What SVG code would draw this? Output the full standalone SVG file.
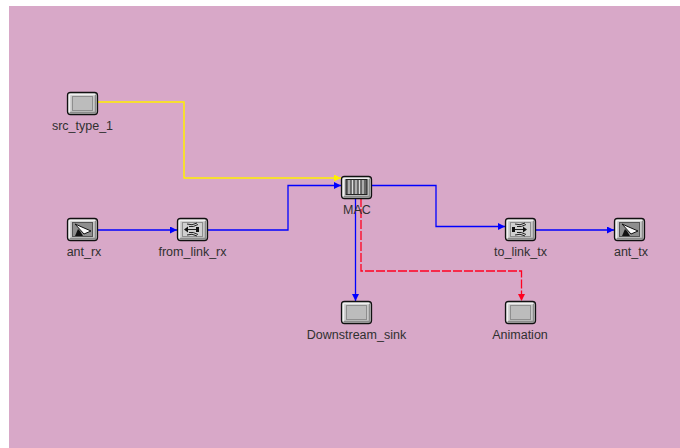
<svg xmlns="http://www.w3.org/2000/svg" width="680" height="448" viewBox="0 0 680 448">
<style>
text{font-family:"Liberation Sans",Arial,sans-serif;font-size:12.5px;fill:#303030;text-anchor:middle}
.c{fill:none;stroke-width:1.3}
.blue{stroke:#0000ff}.yellow{stroke:#fff000;stroke-width:1.5}.red{stroke:#ff0020;stroke-dasharray:9 2}
.body{fill:#c8c8c8;stroke:#111;stroke-width:1.3}
.lit{fill:none;stroke:#f0f0f0;stroke-width:1.5}
.shade{fill:none;stroke:#8c8c8c;stroke-width:1.5}
.inner{fill:#bcbcbc;stroke:#8e8e8e;stroke-width:1}
.screen{fill:#bdbdbd;stroke:#555;stroke-width:1}
.g{stroke:#222;stroke-width:1;fill:none}
</style>
<defs>
<g id="box"><rect class="body" x="0.500" y="0.500" width="30" height="22" rx="3"/><path class="shade" d="M3 20.500H28.500V3"/><path class="lit" d="M2.500 20V2.500H28"/></g>
<g id="plain"><use href="#box"/><rect class="inner" x="5.500" y="4.500" width="20" height="14"/></g>
<g id="ant"><use href="#box"/><rect class="screen" x="5.500" y="4.500" width="20" height="14"/><path d="M6 5h19v13H6z" fill="#555" opacity=".45"/><path d="M8 6l16 7-7 3z" fill="#fbfbfb" stroke="#111"/><path d="M11 11l-3 7h8l-3-5z" fill="#111"/></g>
<g id="link"><use href="#box"/><rect x="5.500" y="4.500" width="20" height="14" fill="#d0d0d0" stroke="#8e8e8e"/><path class="g" d="M10 6q5 2 10-1M12 8.500q4 1 9-2M12 14.500q4-1 9 2M10 17q5-2 10 1"/></g>
<marker id="ab" markerUnits="userSpaceOnUse" markerWidth="8" markerHeight="8" refX="7" refY="3.500" orient="auto"><path d="M0 0L7 3.500 0 7z" fill="#0000ff"/></marker>
<marker id="ay" markerUnits="userSpaceOnUse" markerWidth="8" markerHeight="8" refX="7" refY="3.500" orient="auto"><path d="M0 0L7 3.500 0 7z" fill="#fff000"/></marker>
<marker id="ar" markerUnits="userSpaceOnUse" markerWidth="8" markerHeight="8" refX="7" refY="3.500" orient="auto"><path d="M0 0L7 3.500 0 7z" fill="#ff0020"/></marker>
</defs>
<rect x="9" y="6" width="671" height="442" fill="#d8a8c8"/>
<g id="connectors">
<path class="c yellow" marker-end="url(#ay)" d="M98 102H184V178H341"/>
<path class="c blue" marker-end="url(#ab)" d="M98 230H177"/>
<path class="c blue" marker-end="url(#ab)" d="M207 230H288V185.500H341"/>
<path class="c blue" marker-end="url(#ab)" d="M371 185.500H436V226.500H505"/>
<path class="c blue" marker-end="url(#ab)" d="M535 230H614"/>
<path class="c blue" marker-end="url(#ab)" d="M355.500 198V301"/>
<path class="c red" marker-end="url(#ar)" d="M361 198V271H521.500V301"/>
</g>
<g id="src_type_1"><use href="#plain" x="67" y="92"/><text x="82.500" y="130">src_type_1</text></g>
<g id="ant_rx"><use href="#ant" x="67" y="218"/><text x="84" y="256">ant_rx</text></g>
<g id="from_link_rx"><use href="#link" x="177" y="218"/><path class="g" d="M185 229.500h14" stroke-width="1.500"/><path d="M184 229.500l4-3v6z M199 227v5h-3v-5z" fill="#111"/><text x="192.500" y="256">from_link_rx</text></g>
<g id="MAC"><use href="#box" x="341" y="176"/><rect x="346" y="179.500" width="21" height="15" fill="#666" stroke="#222"/><path d="M349 180v14M352.500 180v14M356 180v14M359.500 180v14M363 180v14" stroke="#ddd" stroke-width="1.200"/><text x="357" y="214">MAC</text></g>
<g id="to_link_tx"><use href="#link" x="505" y="218"/><path class="g" d="M512 229.500h14" stroke-width="1.500"/><path d="M512 227h3v5h-3z M527 229.500l-4-3v6z" fill="#111"/><text x="520.500" y="256">to_link_tx</text></g>
<g id="ant_tx"><use href="#ant" x="614" y="218"/><text x="631" y="256">ant_tx</text></g>
<g id="Downstream_sink"><use href="#plain" x="341" y="301"/><text x="356.500" y="339">Downstream_sink</text></g>
<g id="Animation"><use href="#plain" x="505" y="301"/><text x="520" y="339">Animation</text></g>
</svg>
